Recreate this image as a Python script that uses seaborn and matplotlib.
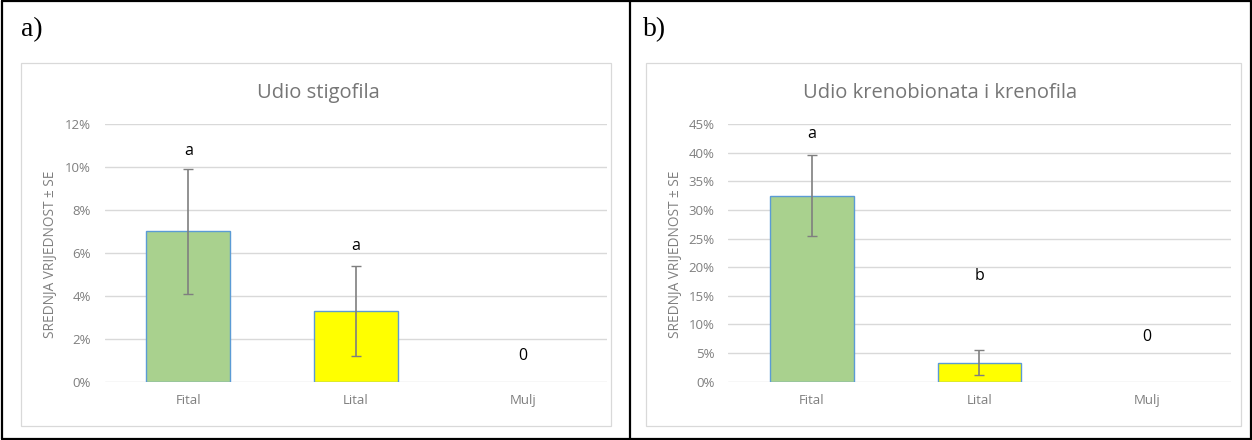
import matplotlib
matplotlib.use("Agg")
import matplotlib.pyplot as plt
import matplotlib.transforms as mtransforms
import seaborn as sns
import pandas as pd
from matplotlib.patches import Rectangle
from matplotlib.lines import Line2D
from matplotlib.ticker import FuncFormatter, MultipleLocator

categories = ["Fital", "Lital", "Mulj"]
stigo_mean = [7.0, 3.3, 0.0]
stigo_se = [2.9, 2.1, 0.0]
stigo_letters = ["a", "a", "0"]
kreno_mean = [32.5, 3.3, 0.0]
kreno_se = [7.05, 2.15, 0.0]
kreno_letters = ["a", "b", "0"]
titles = ["Udio stigofila", "Udio krenobionata i krenofila"]
panel_labels = ["a)", "b)"]
ylabel = "SREDNJA VRIJEDNOST ± SE"

sns.set_theme(style="white")
plt.rcParams["font.family"] = ["Open Sans", "DejaVu Sans"]

W, H = 1252, 440
fig = plt.figure(figsize=(W / 100, H / 100), dpi=100)

bar_colors = ["#A9D18E", "#FFFF00", "#FFFF00"]
gridc = "#D9D9D9"
textc = "#7F7F7F"

def px(x0, y0, x1, y1):
    return [x0 / W, 1 - y1 / H, (x1 - x0) / W, (y1 - y0) / H]

panels = [
    dict(mean=stigo_mean, se=stigo_se, letters=stigo_letters, ymax=12, step=2,
         ax=px(104.5, 124, 607, 381.7), box=(21, 63, 611, 426), title_x=318,
         letter_y=[150.7, 246, 356], lab_x=21, ylab_x=51),
    dict(mean=kreno_mean, se=kreno_se, letters=kreno_letters, ymax=45, step=5,
         ax=px(728.3, 124, 1230.5, 381.7), box=(646, 63, 1241, 426), title_x=940,
         letter_y=[134, 276, 336.7], lab_x=643, ylab_x=675),
]

for i, p in enumerate(panels):
    x0, y0, x1, y1 = p["box"]
    fig.add_artist(Rectangle((x0 / W, 1 - y1 / H), (x1 - x0) / W, (y1 - y0) / H,
                             transform=fig.transFigure, fill=False,
                             edgecolor="#D9D9D9", linewidth=0.9))
    ax = fig.add_axes(p["ax"])
    df = pd.DataFrame({"cat": categories, "val": p["mean"]})
    sns.barplot(data=df, x="cat", y="val", hue="cat", palette=bar_colors,
                saturation=1, width=0.5, edgecolor="#5B9BD5", linewidth=1.0,
                legend=False, ax=ax, zorder=3)
    for patch in ax.patches:
        if patch.get_height() == 0:
            patch.set_linewidth(0)
    xs = list(range(len(categories)))
    ax.errorbar(xs[:2], p["mean"][:2], yerr=p["se"][:2], fmt="none",
                ecolor="#7F7F7F", elinewidth=1.2, capsize=3.5, capthick=1.0, zorder=4)
    ax.set_ylim(0, p["ymax"])
    ax.set_xlim(-0.5, 2.5)
    ax.yaxis.set_major_locator(MultipleLocator(p["step"]))
    ax.yaxis.set_major_formatter(FuncFormatter(lambda v, _: f"{v:.0f}%"))
    ax.grid(axis="y", color=gridc, linewidth=1.0, zorder=0)
    ax.set_axisbelow(True)
    for s in ax.spines.values():
        s.set_visible(False)
    ax.tick_params(axis="both", length=0, labelsize=9.5, colors=textc)
    ax.tick_params(axis="y", pad=10)
    ax.tick_params(axis="x", pad=9)
    ax.set_xlabel("")
    ax.set_ylabel("")
    trans = mtransforms.blended_transform_factory(ax.transData, fig.transFigure)
    for xi, (lt, ly) in enumerate(zip(p["letters"], p["letter_y"])):
        ax.text(xi, 1 - ly / H, lt, transform=trans,
                ha="center", va="center", fontsize=11.5, color="black")
    fig.text(p["title_x"] / W, 1 - 93 / H, titles[i], ha="center", va="center",
             fontsize=14.5, color="#767676")
    fig.text(p["ylab_x"] / W, 1 - 254 / H, ylabel, rotation=90, ha="center",
             va="center", fontsize=9.8, color=textc)
    fig.text(p["lab_x"] / W, 1 - 30 / H, panel_labels[i], ha="left", va="center",
             fontsize=20, color="black", family=["Liberation Serif"])

lw = 1.6
for (xa, ya, xb, yb) in [(1.5, 1.5, 1250.5, 1.5), (1.5, 438.5, 1250.5, 438.5),
                         (1.5, 1.5, 1.5, 438.5), (1250.5, 1.5, 1250.5, 438.5),
                         (630, 1.5, 630, 438.5)]:
    fig.add_artist(Line2D([xa / W, xb / W], [1 - ya / H, 1 - yb / H],
                          transform=fig.transFigure, color="black", linewidth=lw))

fig.savefig("out.png", dpi=100)
